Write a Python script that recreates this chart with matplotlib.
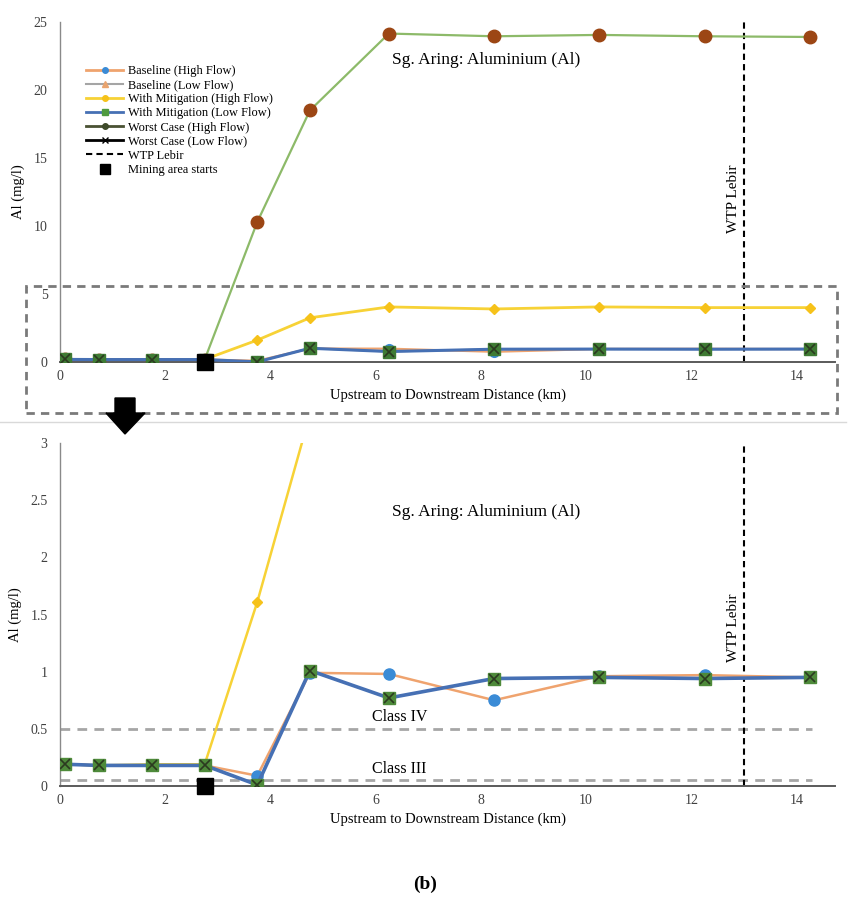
import matplotlib
matplotlib.use("Agg")
import matplotlib.pyplot as plt
from matplotlib.lines import Line2D
from matplotlib.patches import Rectangle, Polygon

plt.rcParams['font.family'] = ['Liberation Serif', 'DejaVu Serif']

# ---- data ----
x_km = [0.1, 0.75, 1.75, 2.75, 3.75, 4.75, 6.25, 8.25, 10.25, 12.25, 14.25]
baseline_high = [0.19, 0.18, 0.18, 0.18, 0.09, 0.99, 0.98, 0.75, 0.96, 0.97, 0.95]
baseline_low = [0.19, 0.18, 0.18, 0.18, 0.01, 1.01, 0.77, 0.94, 0.95, 0.94, 0.95]
mitig_high = [0.19, 0.18, 0.19, 0.19, 1.61, 3.25, 4.05, 3.9, 4.05, 4.0, 4.0]
mitig_low = [0.19, 0.18, 0.18, 0.18, 0.01, 1.01, 0.77, 0.94, 0.95, 0.94, 0.95]
worst_high = [0.19, 0.18, 0.18, 0.18, 10.3, 18.5, 24.15, 23.95, 24.05, 23.95, 23.9]
worst_low = [0.19, 0.18, 0.18, 0.18, 0.01, 1.01, 0.77, 0.94, 0.95, 0.94, 0.95]
wtp_km = 13.0
mining_km = 2.75
class_limits = [0.5, 0.05]
class_labels = ['Class IV', 'Class III']
x_ticks = [0, 2, 4, 6, 8, 10, 12, 14]
top_yticks = [0, 5, 10, 15, 20, 25]
bot_yticks = [0, 0.5, 1, 1.5, 2, 2.5, 3]
bot_ytick_labels = ['0', '0.5', '1', '1.5', '2', '2.5', '3']
title = 'Sg. Aring: Aluminium (Al)'
xlabel = 'Upstream to Downstream Distance (km)'
ylabel = 'Al (mg/l)'

W, H = 850, 899
fig = plt.figure(figsize=(W / 100, H / 100), dpi=100)

def fx(px):
    return px / W

def fy(py):
    return 1 - py / H

C_ORANGE = '#EFA36E'
C_BLUECIRC = '#3A8BD6'
C_GRAY = '#A5A5A5'
C_TRI = '#E9A46F'
C_YEL = '#F7D236'
C_YELM = '#F6C21A'
C_BLUE = '#4670B4'
C_GREENSQ = '#3F7B34'
C_WGREEN = '#8DBA69'
C_BROWN = '#9C4614'
C_DARK = '#2B3A20'

def style_axes(ax, ymax, yticks, ylabels=None):
    ax.set_xlim(0, 14.73)
    ax.set_ylim(0, ymax)
    for s in ['top', 'right']:
        ax.spines[s].set_visible(False)
    ax.spines['left'].set_color('#8a8a8a')
    ax.spines['left'].set_linewidth(1.0)
    ax.spines['bottom'].set_color('#5a5a5a')
    ax.spines['bottom'].set_linewidth(1.4)
    ax.set_xticks(x_ticks)
    ax.set_yticks(yticks)
    if ylabels is not None:
        ax.set_yticklabels(ylabels)
    ax.tick_params(length=0, labelsize=10, colors='#404040', pad=6)
    ax.tick_params(axis='y', pad=9)
    ax.set_xlabel(xlabel, fontsize=10.5, labelpad=4)
    ax.set_ylabel(ylabel, fontsize=10.5, labelpad=6)
    ax.patch.set_alpha(0)

# ---- top axes ----
ax1 = fig.add_axes([fx(60), fy(362), fx(775), (362 - 22) / H])
style_axes(ax1, 25, top_yticks)
ax1.plot(x_km, worst_high, color=C_WGREEN, lw=1.6, marker='o', ms=9,
         mfc=C_BROWN, mec=C_BROWN, zorder=3)
ax1.plot(x_km, mitig_high, color=C_YEL, lw=2.0, marker='D', ms=5.5,
         mfc=C_YELM, mec=C_YELM, zorder=4)
ax1.plot(x_km, baseline_high, color=C_ORANGE, lw=1.6, marker='o', ms=7,
         mfc=C_BLUECIRC, mec=C_BLUECIRC, zorder=4)
ax1.plot(x_km, baseline_low, color=C_GRAY, lw=1.4, marker='^', ms=6,
         mfc=C_TRI, mec=C_TRI, zorder=4)
ax1.plot(x_km, mitig_low, color=C_BLUE, lw=2.2, marker='s', ms=8,
         mfc=C_GREENSQ, mec=C_GREENSQ, zorder=5)
ax1.plot(x_km, worst_low, color=C_BLUE, lw=0, marker='x', ms=7,
         mec=C_DARK, mew=1.2, zorder=6)
ax1.axvline(wtp_km, color='black', lw=1.5, ls=(0, (3, 2)), zorder=2)
ax1.plot([mining_km], [0], marker='s', ms=12, color='black', lw=0,
         zorder=8, clip_on=False)
ax1.text(8.1, 22.2, title, fontsize=12.5, ha='center', va='center')
ax1.text(wtp_km - 0.2, 12.0, 'WTP Lebir', rotation=90, fontsize=11,
         ha='center', va='center')

handles = [
    Line2D([], [], color=C_ORANGE, lw=2, marker='o', ms=4, mfc=C_BLUECIRC, mec=C_BLUECIRC),
    Line2D([], [], color=C_GRAY, lw=1.5, marker='^', ms=4, mfc=C_TRI, mec=C_TRI),
    Line2D([], [], color=C_YEL, lw=2, marker='o', ms=4, mfc=C_YELM, mec=C_YELM),
    Line2D([], [], color=C_BLUE, lw=2, marker='s', ms=4, mfc='#4E9A3E', mec='#4E9A3E'),
    Line2D([], [], color='#4A5233', lw=2, marker='o', ms=4, mfc='#3E4A2A', mec='#3E4A2A'),
    Line2D([], [], color='black', lw=2, marker='x', ms=5, mec='black'),
    Line2D([], [], color='black', lw=1.5, ls=(0, (3, 2))),
    Line2D([], [], color='black', lw=0, marker='s', ms=7),
]
labels = ['Baseline (High Flow)', 'Baseline (Low Flow)', 'With Mitigation (High Flow)',
          'With Mitigation (Low Flow)', 'Worst Case (High Flow)', 'Worst Case (Low Flow)',
          'WTP Lebir', 'Mining area starts']
leg = fig.legend(handles, labels, loc='upper left',
                 bbox_to_anchor=(fx(80), fy(59)), frameon=False, fontsize=8.9,
                 handlelength=3.0, handletextpad=0.4, labelspacing=0.17,
                 borderpad=0.0)

# ---- bottom axes ----
ax2 = fig.add_axes([fx(60), fy(786), fx(775), (786 - 443) / H])
style_axes(ax2, 3, bot_yticks, bot_ytick_labels)
for lim, lab in zip(class_limits, class_labels):
    ax2.plot([0, 14.3], [lim, lim], color='#A6A6A6', lw=2.0, ls=(0, (3.5, 2.6)), zorder=2)
    ax2.text(6.45, lim + 0.1, lab, fontsize=11.5, ha='center', va='center')
ax2.plot(x_km, mitig_high, color=C_YEL, lw=1.8, marker='D', ms=5.5,
         mfc=C_YELM, mec=C_YELM, zorder=3)
ax2.plot(x_km, baseline_high, color=C_ORANGE, lw=1.8, marker='o', ms=8,
         mfc=C_BLUECIRC, mec=C_BLUECIRC, zorder=4)
ax2.plot(x_km, baseline_low, color=C_GRAY, lw=1.4, marker='^', ms=6,
         mfc=C_TRI, mec=C_TRI, zorder=4)
ax2.plot(x_km, mitig_low, color=C_BLUE, lw=2.6, marker='s', ms=8,
         mfc='#4E8A3A', mec='#4E8A3A', zorder=5)
ax2.plot(x_km, worst_low, lw=0, marker='x', ms=7, mec=C_DARK, mew=1.2, zorder=6)
ax2.axvline(wtp_km, color='black', lw=1.5, ls=(0, (3, 2)), zorder=2)
ax2.plot([mining_km], [0], marker='s', ms=11, color='black', lw=0,
         zorder=8, clip_on=False)
ax2.text(8.1, 2.4, title, fontsize=12.5, ha='center', va='center')
ax2.text(wtp_km - 0.2, 1.38, 'WTP Lebir', rotation=90, fontsize=11,
         ha='center', va='center')

# ---- decorations: dashed zoom box, separator, arrow ----
fig.patches.append(Rectangle((fx(26), fy(413)), fx(837 - 26), (413 - 286) / H,
                             transform=fig.transFigure, fill=False,
                             edgecolor='#7a7a7a', lw=2.0, ls=(0, (3, 2.2)), zorder=1))
fig.lines.append(Line2D([fx(0), fx(846)], [fy(422), fy(422)], transform=fig.transFigure,
                        color='#d9d9d9', lw=1.0))
arrow_px = [(115, 398), (135, 398), (135, 413), (145, 413), (125, 434),
            (106, 413), (115, 413)]
fig.patches.append(Polygon([(fx(a), fy(b)) for a, b in arrow_px], closed=True,
                           transform=fig.transFigure, facecolor='black',
                           edgecolor='black', zorder=5))

fig.text(fx(425), fy(884), '(b)', fontsize=14, fontweight='bold', ha='center', va='center')

fig.savefig('out.png', dpi=100)
